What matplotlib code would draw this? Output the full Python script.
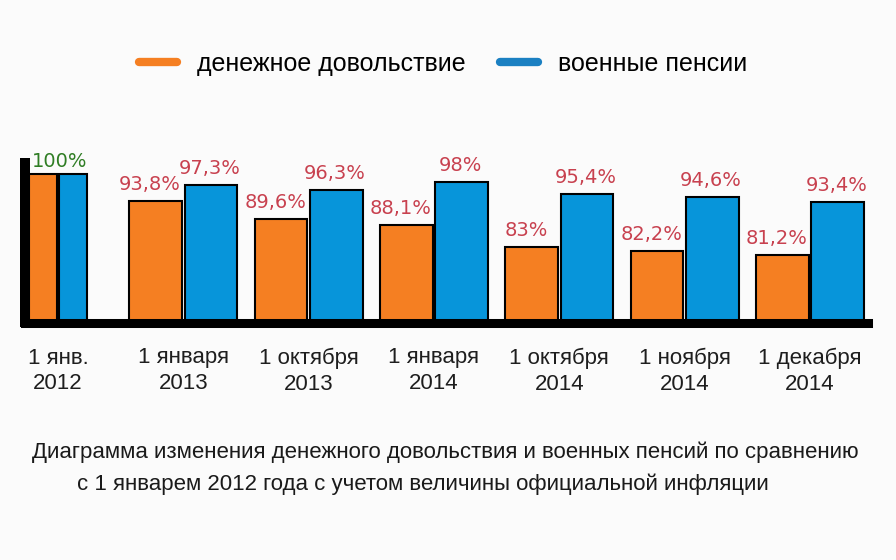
import numpy as np
import matplotlib
matplotlib.use("Agg")
from matplotlib import pyplot as plt
from matplotlib import font_manager as fm
from matplotlib.lines import Line2D

# data
dates = ["1 янв.\n2012", "1 января\n2013", "1 октября\n2013", "1 января\n2014",
         "1 октября\n2014", "1 ноября\n2014", "1 декабря\n2014"]
pay = [100, 93.8, 89.6, 88.1, 83, 82.2, 81.2]
pensions = [100, 97.3, 96.3, 98, 95.4, 94.6, 93.4]
pay_labels = ["", "93,8%", "89,6%", "88,1%", "83%", "82,2%", "81,2%"]
pension_labels = ["", "97,3%", "96,3%", "98%", "95,4%", "94,6%", "93,4%"]
series_names = ["денежное довольствие", "военные пенсии"]
caption = ["Диаграмма изменения денежного довольствия и военных пенсий по сравнению",
           "с 1 январем 2012 года с учетом величины официальной инфляции"]

names = {f.name for f in fm.fontManager.ttflist}
narrow = "Liberation Sans Narrow" if "Liberation Sans Narrow" in names else "Liberation Sans"

orange = "#f57f22"
blue = "#0795da"
red = "#c8414f"
bg = "#fbfbfb"

fig = plt.figure(figsize=(8.96, 5.6), dpi=100, facecolor=bg)
ax = fig.add_axes([25 / 896, 1 - 322.5 / 560, 843 / 896, 159.5 / 560])
ax.set_facecolor(bg)

x = np.arange(len(dates))
w = np.full(len(dates), 0.42)
w[0] = 0.22

ax.bar(x - w / 2 - 0.01, pay, w, color=orange, edgecolor="black", linewidth=1.5, zorder=2)
ax.bar(x + w / 2 + 0.01, pensions, w, color=blue, edgecolor="black", linewidth=1.5, zorder=2)

for i in range(len(dates)):
    ax.annotate(pay_labels[i], (x[i] - w[i] / 2, pay[i]), xytext=(-5, 5),
                textcoords="offset points", ha="center", va="bottom",
                fontsize=14, color=red, family="DejaVu Sans")
    ax.annotate(pension_labels[i], (x[i] + w[i] / 2, pensions[i]), xytext=(0, 5),
                textcoords="offset points", ha="center", va="bottom",
                fontsize=14, color=red, family="DejaVu Sans")
ax.annotate("100%", (x[0], pay[0]), xytext=(1, 2), textcoords="offset points",
            ha="center", va="bottom", fontsize=14, color="#2f7d24",
            family="DejaVu Sans", annotation_clip=False)

ax.set_xlim(-0.263, 6.463)
ax.set_ylim(65.5, 102.5)
ax.set_yticks([])
ax.set_xticks(x)
ax.set_xticklabels(dates, fontsize=16, family=narrow, color="#1e1e1e", linespacing=1.3)
ax.tick_params(axis="x", length=0, pad=18)

for side in ["top", "right"]:
    ax.spines[side].set_visible(False)
ax.spines["left"].set_linewidth(7.2)
ax.spines["bottom"].set_linewidth(6.5)
for side in ["left", "bottom"]:
    ax.spines[side].set_capstyle("projecting")
    ax.spines[side].set_zorder(3)

handles = [Line2D([], [], color=orange, lw=6, solid_capstyle="round"),
           Line2D([], [], color="#1b80c2", lw=6, solid_capstyle="round")]
fig.legend(handles, series_names, loc="center", bbox_to_anchor=(443 / 896, 1 - 64 / 560),
           ncol=2, frameon=False, handlelength=1.5, handletextpad=0.8,
           columnspacing=1.4, prop={"family": narrow, "size": 18})

fig.text(445 / 896, 1 - 452 / 560, caption[0], ha="center", va="center",
         fontsize=16, family=narrow, color="#1a1a1a")
fig.text(77 / 896, 1 - 484 / 560, caption[1], ha="left", va="center",
         fontsize=16, family=narrow, color="#1a1a1a")

fig.savefig("out.png", dpi=100, facecolor=bg)
